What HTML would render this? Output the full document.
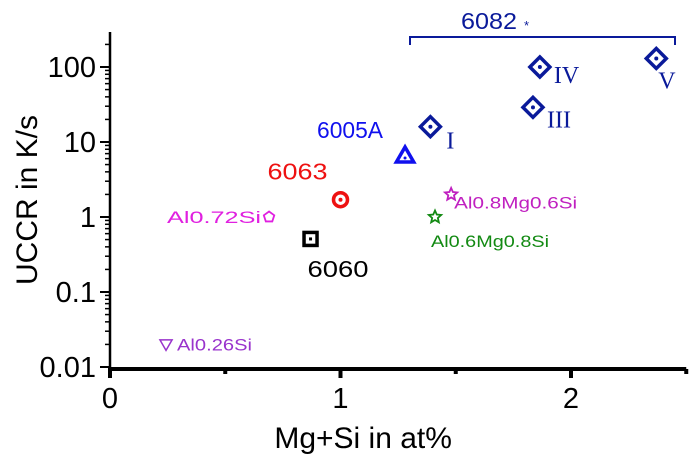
<!DOCTYPE html>
<html><head><meta charset="utf-8"><style>
body{margin:0;background:#fff}
svg{display:block;font-family:"Liberation Sans",sans-serif}
</style></head><body>
<svg id="chart" width="700" height="464"></svg>
<script>
const names=["Al0.26Si","Al0.72Si","6060","6063","6005A","I","Al0.6Mg0.8Si","Al0.8Mg0.6Si","III","IV","V"];
const xVals=[0.243,0.69,0.87,1.0,1.28,1.39,1.41,1.48,1.835,1.865,2.37];
const yVals=[0.02,1.0,0.51,1.7,6.7,16,1.0,2.0,29,100,130];
const yTicks=[0.01,0.1,1,10,100];
const yTickLabels=["0.01","0.1","1","10","100"];
const xTicks=[0,1,2];
const xTickLabels=["0","1","2"];
const shapes=["tri-down","pentagon","square","circle","triangle","diamond","star","star","diamond","diamond","diamond"];
const colors=["#9933cc","#e020e0","#000","#ee1111","#1010ee","#0a1a9a","#138a13","#c020c0","#0a1a9a","#0a1a9a","#0a1a9a"];
const labelOff=[[11,6,"start",17,"sans",75],[-8,6,"end",17,"sans",94],[-3,38,"start",23,"sans",61],[-13,-20,"end",23,"sans",60],[-22,-17,"end",23,"sans",66],[16,22,"start",24,"serif",0],[-4,30,"start",17,"sans",118],[3,14,"start",17,"sans",123],[14,20,"start",24,"serif",0],[14,16,"start",24,"serif",0],[2,30,"start",24,"serif",0]];
const X0=110,XS=230.5,Y0=367,YS=75;
const xs=v=>X0+v*XS, ys=v=>Y0-(Math.log10(v)+2)*YS;
const svg=document.getElementById('chart');
const NS="http://www.w3.org/2000/svg";
function el(t,a,p){const e=document.createElementNS(NS,t);for(const k in a)e.setAttribute(k,a[k]);(p||svg).appendChild(e);return e;}
let a=el('line',{x1:X0,y1:32,x2:X0,y2:370,stroke:'#000','stroke-width':2.5});


a=el('line',{x1:X0-2,y1:369,x2:xs(2.5),y2:369,stroke:'#000','stroke-width':4});


for(let d=-2;d<=2;d++){for(let m=1;m<=9;m++){const v=m*Math.pow(10,d);const y=ys(v);if(y<32)continue;
 const t=el('line',{x1:X0-(m==1?10:5),y1:y,x2:X0,y2:y,stroke:'#000','stroke-width':m==1?2:1.5});
 
 }}
yTicks.forEach((v,i)=>{const t=el('text',{x:X0-14,y:ys(v)+10,'text-anchor':'end','font-size':29});t.textContent=yTickLabels[i];
 
 });
xTicks.forEach((v,i)=>{const l=el('line',{x1:xs(v),y1:369,x2:xs(v),y2:378,stroke:'#000','stroke-width':4});
 
 
 const t=el('text',{x:xs(v),y:408,'text-anchor':'middle','font-size':29});t.textContent=xTickLabels[i];
 
 });
[0.5,1.5,2.5].forEach(v=>{const l=el('line',{x1:xs(v),y1:369,x2:xs(v),y2:374,stroke:'#000','stroke-width':4});
 
 });
let t=el('text',{x:xs(1.25)-35,y:448,'text-anchor':'middle','font-size':30});t.textContent='Mg+Si in at%';


t=el('text',{x:0,y:0,'text-anchor':'middle','font-size':30,transform:'translate(37,200) rotate(-90)'});t.textContent='UCCR in K/s';


const br=el('path',{d:`M410 45 V37 H675 V45`,fill:'none',stroke:'#0a1a9a','stroke-width':2});


t=el('text',{x:461,y:29,'font-size':23,fill:'#0a1a9a',textLength:56,lengthAdjust:'spacingAndGlyphs'});t.textContent='6082';


t=el('text',{x:524,y:30,'font-size':13,fill:'#0a1a9a'});t.textContent='*';


function starPath(cx,cy,R,r){let p='';for(let i=0;i<10;i++){const rr=i%2?r:R;const an=-Math.PI/2+i*Math.PI/5;p+=(i?'L':'M')+(cx+rr*Math.cos(an))+' '+(cy+rr*Math.sin(an));}return p+'Z';}
function polyPath(cx,cy,R,n,rot){let p='';for(let i=0;i<n;i++){const an=rot+i*2*Math.PI/n;p+=(i?'L':'M')+(cx+R*Math.cos(an))+' '+(cy+R*Math.sin(an));}return p+'Z';}
xVals.forEach((xv,i)=>{
 const cx=xs(xv),cy=ys(yVals[i]),c=colors[i],s=shapes[i];let m;
 if(s=='circle'){m=el('circle',{cx,cy,r:7,fill:'none',stroke:c,'stroke-width':3.5});el('circle',{cx,cy,r:2,fill:c});}
 else if(s=='square'){m=el('rect',{x:cx-6.5,y:cy-6.5,width:13,height:13,fill:'none',stroke:c,'stroke-width':3.5});el('rect',{x:cx-1.5,y:cy-1.5,width:3,height:3,fill:c});}
 else if(s=='diamond'){m=el('path',{d:polyPath(cx,cy,10,4,0),fill:'none',stroke:c,'stroke-width':3.5});el('circle',{cx,cy,r:2,fill:c});}
 else if(s=='triangle'){m=el('path',{d:polyPath(cx,cy+2,10,3,-Math.PI/2),fill:'none',stroke:c,'stroke-width':3.5});el('circle',{cx,cy:cy+3,r:1.5,fill:c});}
 else if(s=='tri-down'){m=el('path',{d:polyPath(cx,cy-1,7,3,Math.PI/2),fill:'none',stroke:c,'stroke-width':1.5});}
 else if(s=='pentagon'){m=el('path',{d:polyPath(cx,cy,5.5,5,-Math.PI/2),fill:'none',stroke:c,'stroke-width':1.8});}
 else {m=el('path',{d:starPath(cx,cy,6.5,3),fill:'none',stroke:c,'stroke-width':1.8});}
 
 
 const o=labelOff[i];
 const attrs={x:cx+o[0],y:cy+o[1],'text-anchor':o[2],'font-size':o[3],fill:c,'font-family':o[4]=='serif'?'"Liberation Serif",serif':'"Liberation Sans",sans-serif'};
 if(o[5]){attrs.textLength=o[5];attrs.lengthAdjust='spacingAndGlyphs';}
 const lb=el('text',attrs);
 lb.textContent=names[i];
 
 
});
</script>
</body></html>
